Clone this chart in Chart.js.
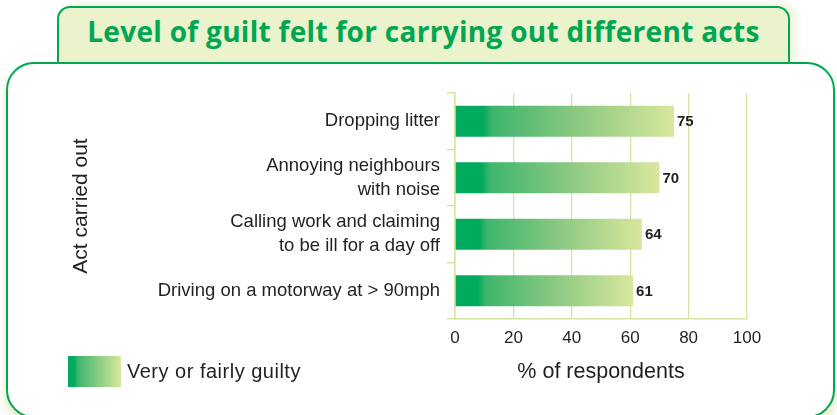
<!DOCTYPE html>
<html>
<head>
<meta charset="utf-8">
<script src="https://cdn.jsdelivr.net/npm/chart.js@4"></script>
<style>
    html, body { margin: 0; padding: 0; background: #fff; }
    #page { position: relative; width: 837px; height: 415px; overflow: hidden; }
    #tab {
        position: absolute; left: 57px; top: 6px; width: 733px; height: 58px;
        box-sizing: border-box; border: 2.5px solid #00a651; border-bottom: none;
        border-radius: 13px 13px 0 0; background: #eaf3cc;
        box-shadow: 6px -2px 10px #eef5d8;
    }
    #tab h1 {
        margin: 0; font: 700 28px "Open Sans", Lato, sans-serif; color: #00a651;
        letter-spacing: 0.3px; text-align: center; line-height: 46px;
    }
    #box {
        position: absolute; left: 6px; top: 62px; width: 829px; height: 356px;
        box-sizing: border-box; border: 2.5px solid #00a651; border-radius: 28px;
        background: #fff; box-shadow: 0 6px 10px #dcebb5;
    }
    #wrap { position: absolute; left: 0; top: 0; width: 837px; height: 415px; }
    #legend {
        position: absolute; left: 68px; top: 356px; display: flex; align-items: center;
        font: 20px "Liberation Sans", Arial, sans-serif; letter-spacing: 0.5px; color: #231f20;
    }
    #legend span.swatch {
        display: inline-block; width: 53px; height: 31px; margin-right: 6px;
        background: linear-gradient(to right, #00ab5d 0%, #00ab5d 12%, #3db56c 18%, #d9e79d 100%);
    }
</style>
</head>
<body>
<div id="page">
    <div id="tab"><h1>Level of guilt felt for carrying out different acts</h1></div>
    <div id="box"></div>
    <div id="wrap"><canvas id="guiltChart" width="837" height="415"></canvas></div>
    <div id="legend"><span class="swatch"></span><span id="legendText"></span></div>
</div>
<script>
// Chart data
const categories = [
    ['Dropping litter'],
    ['Annoying neighbours', 'with noise'],
    ['Calling work and claiming', 'to be ill for a day off'],
    ['Driving on a motorway at > 90mph']
];
const guiltValues = [75, 70, 64, 61];
const seriesLabel = 'Very or fairly guilty';
const xTitle = '% of respondents';
const yTitle = 'Act carried out';

const GREEN = '#00ab5d';
const GRID = '#d6e4a2';
const TEXT = '#231f20';
const FONT = '"Liberation Sans", Arial, sans-serif';

document.getElementById('legendText').textContent = seriesLabel;

// Gradient per bar, from the axis to the end of the bar
function barGradient(ctx) {
    const chart = ctx.chart;
    if (!chart.chartArea || ctx.raw === undefined) return GREEN;
    const x0 = chart.scales.x.getPixelForValue(0);
    const x1 = chart.scales.x.getPixelForValue(ctx.raw);
    const g = chart.ctx.createLinearGradient(x0, 0, x1, 0);
    g.addColorStop(0, GREEN);
    g.addColorStop(0.13, GREEN);
    g.addColorStop(0.17, '#3db56c');
    g.addColorStop(0.55, '#8ac881');
    g.addColorStop(1, '#d9e79d');
    return g;
}

// Value labels at the end of each bar
const valueLabels = {
    id: 'valueLabels',
    afterDatasetsDraw(chart) {
        const ctx = chart.ctx;
        ctx.save();
        ctx.font = 'bold 15px ' + FONT;
        ctx.fillStyle = TEXT;
        ctx.textBaseline = 'middle';
        chart.getDatasetMeta(0).data.forEach((bar, i) => {
            ctx.fillText(String(guiltValues[i]), bar.x + 3, bar.y + 1);
        });
        ctx.restore();
    }
};

new Chart(document.getElementById('guiltChart'), {
    type: 'bar',
    data: {
        labels: categories,
        datasets: [{
            label: seriesLabel,
            data: guiltValues,
            backgroundColor: barGradient,
            barPercentage: 0.55,
            categoryPercentage: 1.0
        }]
    },
    options: {
        indexAxis: 'y',
        responsive: false,
        animation: false,
        layout: { padding: { left: 65, top: 93, right: 90, bottom: 24 } },
        plugins: {
            legend: { display: false },
            tooltip: { enabled: false }
        },
        scales: {
            x: {
                min: 0,
                max: 100,
                ticks: { stepSize: 20, padding: 9, color: TEXT, font: { family: FONT, size: 17 } },
                grid: { color: GRID, lineWidth: 1.3, drawTicks: false },
                border: { color: GRID, width: 1.5 },
                title: {
                    display: true, text: xTitle, color: TEXT,
                    font: { family: FONT, size: 21.5 }, padding: { top: 0, bottom: 6 }
                },
                afterFit: (s) => { s.height = 72; }
            },
            y: {
                ticks: { padding: 7, color: TEXT, font: { family: FONT, size: 18.5, lineHeight: 1.3 } },
                grid: { color: GRID, lineWidth: 1.5, drawOnChartArea: false, offset: true, tickLength: 8 },
                border: { color: GRID, width: 1.5 },
                title: {
                    display: true, text: yTitle, color: TEXT,
                    font: { family: FONT, size: 21 }, padding: { top: 4, bottom: 0 }
                },
                afterFit: (s) => { s.width = 390; }
            }
        }
    },
    plugins: [valueLabels]
});
</script>
</body>
</html>
